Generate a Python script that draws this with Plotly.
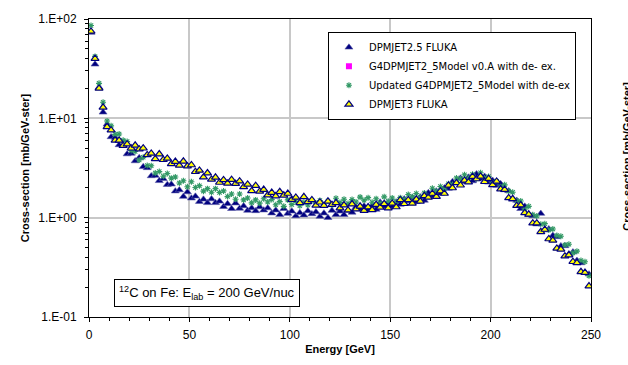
import plotly.graph_objects as go

energy = [1, 3, 5, 7, 9, 11, 13, 15, 17, 19, 21, 23, 25, 27, 29, 31, 33, 35, 37, 39,
          41, 43, 45, 47, 49, 51, 53, 55, 57, 59, 61, 63, 65, 67, 69, 71, 73, 75, 77, 79,
          81, 83, 85, 87, 89, 91, 93, 95, 97, 99, 101, 103, 105, 107, 109, 111, 113, 115, 117, 119,
          121, 123, 125, 127, 129, 131, 133, 135, 137, 139, 141, 143, 145, 147, 149, 151, 153, 155, 157, 159,
          161, 163, 165, 167, 169, 171, 173, 175, 177, 179, 181, 183, 185, 187, 189, 191, 193, 195, 197, 199,
          201, 203, 205, 207, 209, 211, 213, 215, 217, 219, 221, 223, 225, 227, 229, 231, 233, 235, 237, 239,
          241, 243, 245, 247, 249]

dpmjet25_fluka = [73, 35, 20.5, 11.5, 8.7, 6.5, 6.4, 5.4, 5.3, 4.37, 4.43, 3.72, 4.0, 3.25, 3.17, 2.63, 2.65, 2.35, 2.46, 2.15,
                  2.17, 1.85, 1.9, 1.63, 1.81, 1.57, 1.64, 1.45, 1.53, 1.41, 1.54, 1.41, 1.46, 1.29, 1.38, 1.23, 1.4, 1.24, 1.31, 1.18,
                  1.25, 1.17, 1.28, 1.19, 1.25, 1.11, 1.19, 1.07, 1.23, 1.1, 1.16, 1.04, 1.12, 1.06, 1.17, 1.09, 1.14, 1.03, 1.11, 1.0,
                  1.18, 1.07, 1.16, 1.07, 1.18, 1.13, 1.28, 1.22, 1.31, 1.2, 1.32, 1.21, 1.43, 1.3, 1.41, 1.3, 1.43, 1.36, 1.54, 1.47,
                  1.59, 1.45, 1.61, 1.49, 1.78, 1.65, 1.85, 1.75, 1.99, 1.97, 2.3, 2.25, 2.49, 2.3, 2.55, 2.34, 2.75, 2.47, 2.6, 2.27,
                  2.37, 2.11, 2.19, 1.9, 1.86, 1.52, 1.49, 1.23, 1.3, 1.07, 1.04, 0.86, 1.1, 0.75, 0.77, 0.66, 0.64, 0.52, 0.52, 0.43,
                  0.45, 0.37, 0.35, 0.28, 0.27]

g4dpmjet_v0a = []

updated_g4dpmjet = [86, 42, 22.5, 14.5, 9.4, 8.4, 6.9, 6.95, 6.0, 5.83, 4.75, 4.64, 3.81, 4.05, 3.35, 3.33, 2.82, 2.91, 2.61, 2.78,
                    2.5, 2.57, 2.23, 2.35, 2.05, 2.3, 2.01, 2.1, 1.85, 1.96, 1.8, 1.96, 1.79, 1.86, 1.63, 1.73, 1.53, 1.73, 1.51, 1.58,
                    1.41, 1.51, 1.4, 1.55, 1.44, 1.52, 1.35, 1.45, 1.3, 1.51, 1.36, 1.46, 1.32, 1.43, 1.34, 1.5, 1.4, 1.49, 1.35, 1.47,
                    1.34, 1.57, 1.42, 1.53, 1.39, 1.52, 1.44, 1.61, 1.5, 1.59, 1.43, 1.55, 1.4, 1.62, 1.46, 1.58, 1.45, 1.59, 1.52, 1.71,
                    1.62, 1.75, 1.6, 1.77, 1.65, 1.98, 1.84, 2.06, 1.94, 2.19, 2.16, 2.51, 2.45, 2.7, 2.49, 2.74, 2.47, 2.83, 2.5, 2.6,
                    2.26, 2.33, 2.06, 2.14, 1.85, 1.8, 1.48, 1.47, 1.22, 1.3, 1.07, 1.04, 0.86, 0.87, 0.75, 0.77, 0.66, 0.65, 0.53, 0.54,
                    0.44, 0.46, 0.37, 0.36, 0.26]

dpmjet3_fluka = [75, 40, 20, 12.9, 8.2, 7.6, 6.0, 6.0, 5.3, 5.5, 5.0, 5.35, 4.9, 5.0, 4.28, 4.43, 3.9, 4.37, 3.83, 3.95,
                 3.48, 3.67, 3.36, 3.69, 3.3, 3.39, 2.9, 2.99, 2.56, 2.81, 2.43, 2.55, 2.26, 2.4, 2.21, 2.41, 2.2, 2.33, 2.04, 2.16,
                 1.86, 2.1, 1.84, 1.92, 1.69, 1.79, 1.65, 1.82, 1.68, 1.75, 1.52, 1.6, 1.41, 1.62, 1.44, 1.51, 1.33, 1.43, 1.32, 1.46,
                 1.35, 1.41, 1.25, 1.34, 1.19, 1.37, 1.22, 1.3, 1.18, 1.28, 1.2, 1.35, 1.27, 1.38, 1.25, 1.39, 1.28, 1.51, 1.38, 1.51,
                 1.39, 1.53, 1.46, 1.66, 1.6, 1.75, 1.63, 1.85, 1.75, 2.11, 1.99, 2.24, 2.12, 2.37, 2.28, 2.59, 2.45, 2.6, 2.3, 2.47,
                 2.14, 2.32, 1.94, 1.92, 1.58, 1.55, 1.32, 1.34, 1.12, 1.08, 0.88, 0.88, 0.72, 0.76, 0.61, 0.59, 0.49, 0.48, 0.41, 0.42,
                 0.36, 0.35, 0.285, 0.28, 0.205]

y_tickvals = [0.1, 1, 10, 100]
y_ticktext = ["1.E-01", "1.E+00", "1.E+01", "1.E+02"]
x_tickvals = [0, 50, 100, 150, 200, 250]

FONT = "Arial, Liberation Sans, sans-serif"

fig = go.Figure()
fig.add_trace(go.Scatter(
    x=energy, y=dpmjet25_fluka, mode="markers", name="DPMJET2.5 FLUKA",
    marker=dict(symbol="triangle-up", size=7, color="#000080",
                line=dict(color="#5a5aa8", width=0.6))))
fig.add_trace(go.Scatter(
    x=energy[:len(g4dpmjet_v0a)] if g4dpmjet_v0a else [None],
    y=g4dpmjet_v0a if g4dpmjet_v0a else [None], mode="markers",
    name="G4DPMJET2_5Model v0.A with de- ex.",
    marker=dict(symbol="square", size=6, color="#ff00ff")))
fig.add_trace(go.Scatter(
    x=energy, y=updated_g4dpmjet, mode="markers",
    name="Updated G4DPMJET2_5Model with de-ex",
    marker=dict(symbol="asterisk-open", size=5, color="#339966",
                line=dict(color="#339966", width=1.1))))
fig.add_trace(go.Scatter(
    x=energy, y=dpmjet3_fluka, mode="markers", name="DPMJET3 FLUKA",
    marker=dict(symbol="triangle-up", size=7, color="#ffff00",
                line=dict(color="#000080", width=1.2))))

fig.update_layout(
    width=628, height=365,
    margin=dict(l=89, r=37, t=15, b=46),
    paper_bgcolor="white", plot_bgcolor="white",
    font=dict(family=FONT, size=12, color="black"),
    showlegend=True,
    legend=dict(x=0.476, y=0.957, xanchor="left", yanchor="top",
                bordercolor="black", borderwidth=1, bgcolor="white",
                font=dict(family="DejaVu Sans, Arial, sans-serif", size=10, color="black"),
                itemsizing="trace", itemwidth=30, tracegroupgap=0),
    xaxis=dict(range=[0, 250], tickvals=x_tickvals, ticks="outside", ticklen=4,
               tickcolor="black", showline=True, linecolor="black", linewidth=1, mirror=True,
               showgrid=True, gridcolor="#c8c8c8", gridwidth=1.5, zeroline=False,
               ticklabelstandoff=3,
               minor=dict(dtick=10, ticks="outside", ticklen=3, tickcolor="black", showgrid=False),
               title=dict(text="<b>Energy [GeV]</b>", font=dict(size=11), standoff=3),
               tickfont=dict(size=12)),
    yaxis=dict(type="log", range=[-1, 2], tickvals=y_tickvals, ticktext=y_ticktext,
               ticks="outside", ticklen=4, tickcolor="black",
               showline=True, linecolor="black", linewidth=1, mirror=True,
               showgrid=True, gridcolor="#c8c8c8", gridwidth=1.5, zeroline=False,
               ticklabelstandoff=5,
               minor=dict(tickvals=[0.2, 0.3, 0.4, 0.5, 0.6, 0.7, 0.8, 0.9,
                                    2, 3, 4, 5, 6, 7, 8, 9, 20, 30, 40, 50, 60, 70, 80, 90],
                          ticks="outside", ticklen=3, tickcolor="black", showgrid=False),
               title=dict(text="<b>Cross-section [mb/GeV-ster]</b>", font=dict(size=11), standoff=6),
               tickfont=dict(size=12)),
)

fig.add_annotation(
    xref="paper", yref="paper", x=0.235, y=0.081, xanchor="center", yanchor="middle",
    text="<sup>12</sup>C on Fe: E<sub>lab</sub> = 200 GeV/nuc", showarrow=False,
    font=dict(family=FONT, size=13, color="black"),
    bordercolor="black", borderwidth=1, borderpad=4, bgcolor="white")

fig.add_annotation(
    xref="paper", yref="paper", x=1.071, y=0.54, xanchor="center", yanchor="middle",
    text="<b>Cross-section [mb/GeV-ster]</b>", textangle=-90, showarrow=False,
    font=dict(family=FONT, size=11, color="black"))

fig.write_html("out.html")
